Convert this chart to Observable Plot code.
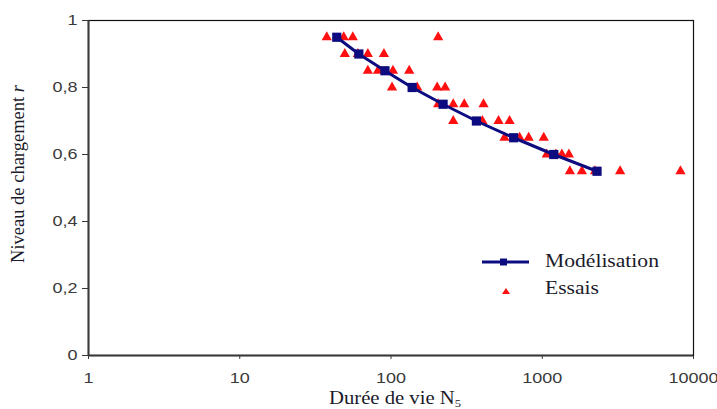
<!DOCTYPE html>
<html><head><meta charset="utf-8">
<script src="https://cdn.jsdelivr.net/npm/d3@7"></script>
<script src="https://cdn.jsdelivr.net/npm/@observablehq/plot@0.6"></script>
<style>
body{margin:0;background:#fff;}
</style>
</head><body>
<div id="chart"></div>
<script>
// Modélisation
const modN = [43.8, 61.3, 91.2, 138, 221, 367, 647, 1192, 2302];
const modR = [0.95, 0.9, 0.85, 0.8, 0.75, 0.7, 0.65, 0.6, 0.55];
// Essais
const essN = [37.6, 48.7, 55.9, 205,
  49.5, 60.4, 70.3, 89.8,
  70.3, 82, 103, 132,
  101.6, 149, 202, 228,
  205, 258, 305, 409,
  258, 402, 514, 608,
  563, 709, 813, 1023,
  1071, 1230, 1348, 1500,
  1523, 1829, 2233, 3273, 8200];
const essR = [0.95,0.95,0.95,0.95,
  0.9,0.9,0.9,0.9,
  0.85,0.85,0.85,0.85,
  0.8,0.8,0.8,0.8,
  0.75,0.75,0.75,0.75,
  0.7,0.7,0.7,0.7,
  0.65,0.65,0.65,0.65,
  0.6,0.6,0.6,0.6,
  0.55,0.55,0.55,0.55,0.55];
const xTicks = [1, 10, 100, 1000, 10000];
const yTicks = [0, 0.2, 0.4, 0.6, 0.8, 1];
const seriesNames = ["Modélisation", "Essais"];

const mod = modN.map((n, i) => ({n, r: modR[i]}));
const ess = essN.map((n, i) => ({n, r: essR[i]}));

const navy = "#0c0c80", red = "#ff1010";

const chart = Plot.plot({
  width: 717, height: 409,
  marginLeft: 88, marginRight: 24, marginTop: 20, marginBottom: 54,
  style: {fontFamily: "'Liberation Sans', Arial, sans-serif", fontSize: "15px", color: "#3a3a3a"},
  x: {type: "log", domain: [1, 10000], ticks: xTicks, tickFormat: d => String(d), tickSize: 4, tickPadding: 13, label: null},
  y: {domain: [0, 1], ticks: yTicks, tickFormat: d => d === 0 ? "0" : d === 1 ? "1" : String(d).replace(".", ","), tickSize: 6, tickPadding: 5, label: null},
  marks: [
    Plot.frame({stroke: "#111", strokeWidth: 1.2}),
    Plot.ruleY([0], {stroke: "#3a3a3a", strokeWidth: 2}),
    Plot.ruleX([1], {stroke: "#3a3a3a", strokeWidth: 2}),
    Plot.dot(ess, {x: "n", y: "r", symbol: "triangle", r: 3.8, fill: red, stroke: "none"}),
    Plot.line(mod, {x: "n", y: "r", stroke: navy, strokeWidth: 3}),
    Plot.dot(mod, {x: "n", y: "r", symbol: "square", r: 5.2, fill: navy, stroke: "none"})
  ]
});
document.getElementById("chart").appendChild(chart);

const svg = d3.select(chart);
// horizontal stretch of tick labels like the reference
svg.selectAll("g[aria-label='x-axis tick label'] text, g[aria-label='y-axis tick label'] text")
  .each(function() {
    const t = this.getAttribute("transform") || "";
    this.setAttribute("transform", t + " scale(1.2,1)");
  });

const serif = "'Liberation Serif','DejaVu Serif',serif";
const ink = "#1a1a2a";
const xt = svg.append("text").attr("transform", "translate(395,404) scale(1.15,1)").attr("text-anchor", "middle")
  .attr("font-family", serif).attr("font-size", 18).attr("fill", ink);
xt.append("tspan").text("Durée de vie N");
xt.append("tspan").attr("font-size", 11).attr("dy", 3).text("5");
const yt = svg.append("text").attr("transform", "translate(24,174) rotate(-90)").attr("text-anchor", "middle")
  .attr("font-family", serif).attr("font-size", 18.5).attr("fill", ink);
yt.append("tspan").text("Niveau de chargement ");
yt.append("tspan").attr("font-style", "italic").text("r");

// legend
const lg = svg.append("g").attr("text-anchor", "start");
lg.append("line").attr("x1", 482).attr("x2", 529).attr("y1", 262).attr("y2", 262).attr("stroke", navy).attr("stroke-width", 3);
lg.append("rect").attr("x", 500).attr("y", 258.5).attr("width", 7).attr("height", 7).attr("fill", navy);
lg.append("path").attr("d", "M506,288 L510,294 L502,294 Z").attr("fill", red);
lg.append("text").attr("transform", "translate(545,267) scale(1.2,1)").attr("text-anchor", "start").attr("font-family", serif).attr("font-size", 18).attr("fill", ink).text(seriesNames[0]);
lg.append("text").attr("transform", "translate(545,294) scale(1.2,1)").attr("text-anchor", "start").attr("font-family", serif).attr("font-size", 18).attr("fill", ink).text(seriesNames[1]);
</script>
</body></html>
